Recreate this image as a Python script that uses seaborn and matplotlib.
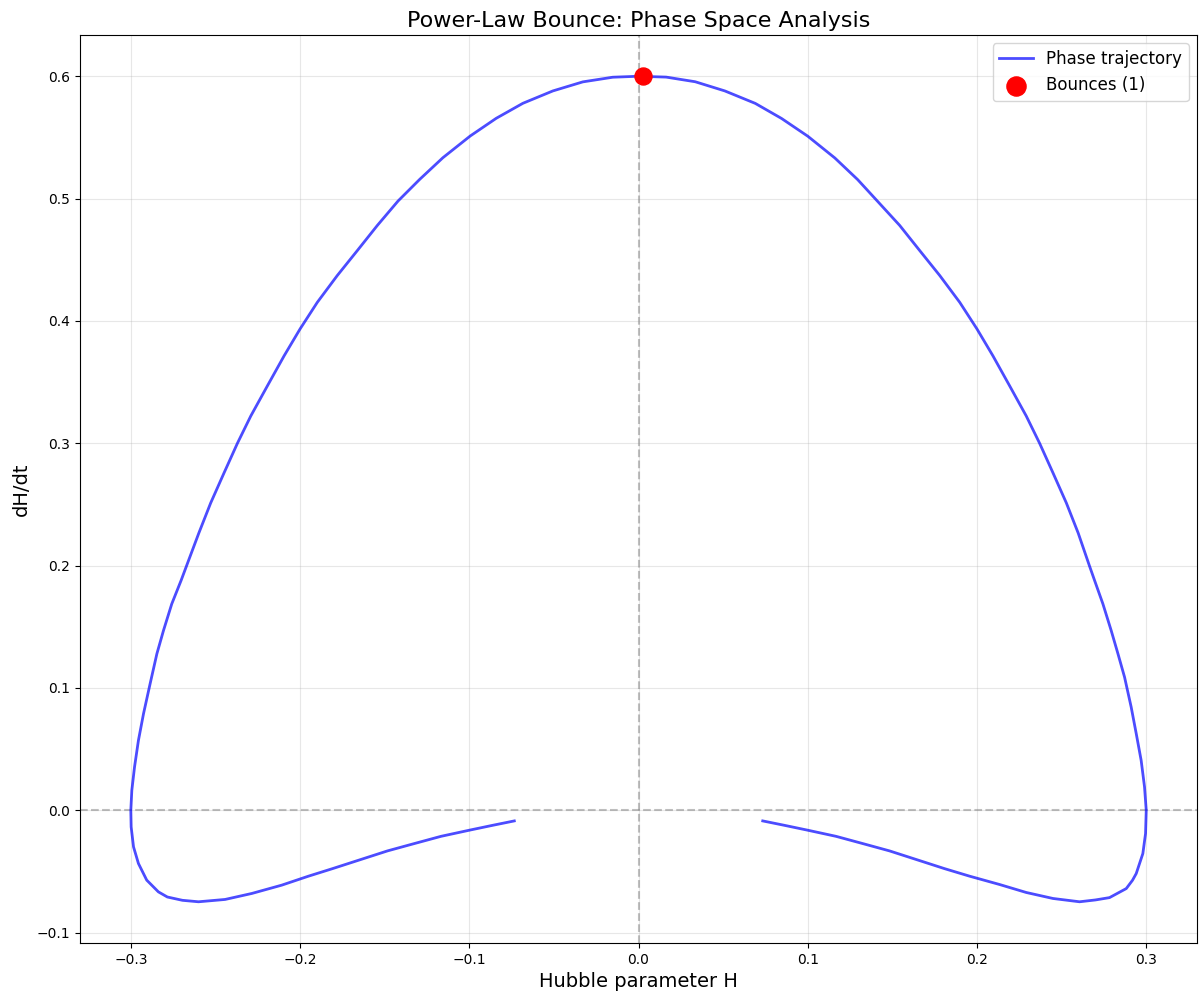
import numpy as np
import pandas as pd
import matplotlib
matplotlib.use("Agg")
import matplotlib.pyplot as plt
import seaborn as sns

# phase trajectory (H, dH/dt), in time order
H_vals = [-0.0734, -0.0862, -0.1000, -0.1167, -0.1335, -0.1483, -0.1631, -0.1808,
          -0.1951, -0.2108, -0.2285, -0.2443, -0.2600, -0.2695, -0.2784, -0.2837,
          -0.2906, -0.2955, -0.2984, -0.2998, -0.3000, -0.2994, -0.2978, -0.2955,
          -0.2925, -0.2886, -0.2846, -0.2807, -0.2758, -0.2703, -0.2659, -0.2598,
          -0.2528, -0.2449, -0.2370, -0.2291, -0.2193, -0.2094, -0.2000, -0.1898,
          -0.1780, -0.1661, -0.1543, -0.1421, -0.1293, -0.1156, -0.0994, -0.0841,
          -0.0683, -0.0506, -0.0329, -0.0152, 0.0000,
          0.0163, 0.0335, 0.0510, 0.0690, 0.0845, 0.1000, 0.1160, 0.1295,
          0.1425, 0.1543, 0.1661, 0.1780, 0.1898, 0.2000, 0.2094, 0.2193,
          0.2291, 0.2370, 0.2449, 0.2528, 0.2598, 0.2664, 0.2695, 0.2744,
          0.2793, 0.2833, 0.2872, 0.2911, 0.2941, 0.2970, 0.2990, 0.3000,
          0.2996, 0.2980, 0.2941, 0.2919, 0.2882, 0.2783, 0.2700, 0.2606,
          0.2449, 0.2291, 0.2134, 0.1957, 0.1808, 0.1631, 0.1483, 0.1335,
          0.1167, 0.1000, 0.0862, 0.0734]
dH_vals = [-0.0087, -0.0123, -0.0163, -0.0213, -0.0276, -0.0332, -0.0398, -0.0477,
           -0.0539, -0.0612, -0.0680, -0.0729, -0.0748, -0.0736, -0.0709, -0.0667,
           -0.0571, -0.0435, -0.0299, -0.0136, 0.0000, 0.0163, 0.0354, 0.0571,
           0.0789, 0.1034, 0.1279, 0.1469, 0.1687, 0.1878, 0.2041, 0.2266,
           0.2512, 0.2758, 0.3000, 0.3223, 0.3469, 0.3715, 0.3934, 0.4152,
           0.4371, 0.4576, 0.4781, 0.4980, 0.5157, 0.5334, 0.5512, 0.5656,
           0.5779, 0.5880, 0.5954, 0.5992, 0.6000,
           0.5993, 0.5955, 0.5880, 0.5778, 0.5655, 0.5510, 0.5332, 0.5155,
           0.4959, 0.4781, 0.4576, 0.4371, 0.4152, 0.3934, 0.3715, 0.3469,
           0.3223, 0.3000, 0.2758, 0.2512, 0.2266, 0.2000, 0.1878, 0.1687,
           0.1469, 0.1279, 0.1088, 0.0844, 0.0626, 0.0408, 0.0190, 0.0000,
           -0.0190, -0.0354, -0.0517, -0.0572, -0.0640, -0.0714, -0.0733, -0.0748,
           -0.0721, -0.0672, -0.0607, -0.0539, -0.0477, -0.0398, -0.0332, -0.0276,
           -0.0213, -0.0163, -0.0123, -0.0087]

bounce_H = [0.0026]
bounce_dH = [0.6]

traj = pd.DataFrame({"H": H_vals, "dH": dH_vals})
bounces = pd.DataFrame({"H": bounce_H, "dH": bounce_dH})

fig, ax = plt.subplots(figsize=(12, 9.99), dpi=100)

ax.axhline(0, color="gray", linestyle="--", alpha=0.5, linewidth=1.5)
ax.axvline(0, color="gray", linestyle="--", alpha=0.5, linewidth=1.5)

sns.lineplot(data=traj, x="H", y="dH", sort=False, estimator=None,
             color="blue", alpha=0.7, linewidth=2, label="Phase trajectory", ax=ax)
sns.scatterplot(data=bounces, x="H", y="dH", color="red", s=150,
                edgecolor="red", linewidth=1, zorder=5,
                label=f"Bounces ({len(bounce_H)})", ax=ax)

ax.set_xlabel("Hubble parameter H", fontsize=14)
ax.set_ylabel("dH/dt", fontsize=14)
ax.set_title("Power-Law Bounce: Phase Space Analysis", fontsize=16)
ax.grid(True, alpha=0.3)
leg = ax.legend(loc="upper right", fontsize=12)
leg.legend_handles[1].set_sizes([190])

plt.subplots_adjust(left=0.0667, right=0.9975, top=0.965, bottom=0.056)
plt.savefig("out.png", dpi=100)
